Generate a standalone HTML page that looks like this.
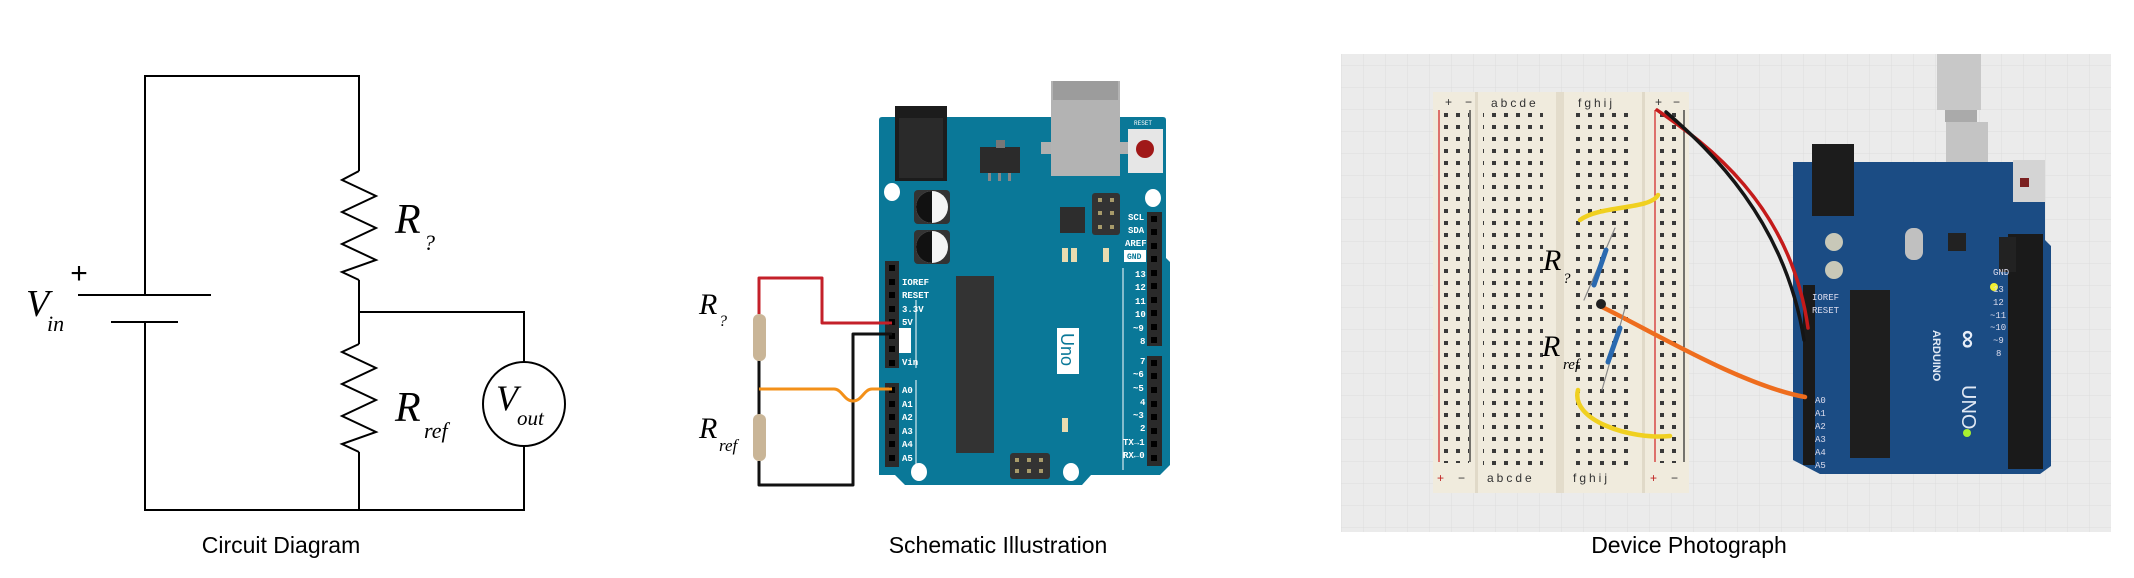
<!DOCTYPE html>
<html><head><meta charset="utf-8"><style>
html,body{margin:0;padding:0;background:#fff;}
svg{display:block;}
.cap{font-family:"Liberation Sans",sans-serif;font-size:23px;fill:#000;text-anchor:middle;}
.m{font-family:"Liberation Serif",serif;font-style:italic;fill:#000;}
.pl{font-family:"Liberation Mono",monospace;font-size:9px;font-weight:bold;fill:#fff;}
</style></head><body>
<svg width="2134" height="578" viewBox="0 0 2134 578" xmlns="http://www.w3.org/2000/svg">
<defs>
<pattern id="grid" width="22" height="22" patternUnits="userSpaceOnUse">
<rect width="22" height="22" fill="#ebebeb"/><path d="M22 0V22H0" fill="none" stroke="#dcdcdc" stroke-width="1"/></pattern>
<pattern id="holes" x="0" y="109" width="12" height="12" patternUnits="userSpaceOnUse">
<rect x="4" y="4" width="4" height="4" fill="#3a3a3a"/></pattern>
<pattern id="rhole" x="0" y="109" width="12" height="12" patternUnits="userSpaceOnUse">
<rect x="4" y="4" width="4" height="4" fill="#3a3a3a"/></pattern>
</defs>

<!-- ===== Circuit diagram ===== -->
<g fill="none" stroke="#000" stroke-width="2">
<polyline points="145,295 145,76 359,76 359,171"/>
<polyline points="359,171 342,180 376,196 342,212 376,228 342,244 376,260 342,272 359,280"/>
<polyline points="359,280 359,344"/>
<polyline points="359,312 524,312 524,362"/>
<polyline points="359,344 342,352 376,368 342,384 376,400 342,416 376,432 342,444 359,452"/>
<polyline points="359,452 359,510"/>
<polyline points="145,322 145,510 524,510 524,446"/>
<line x1="78" y1="295" x2="211" y2="295"/>
<line x1="111" y1="322" x2="178" y2="322"/>
<ellipse cx="524" cy="404" rx="41" ry="42"/>
</g>
<text x="79" y="283" font-family="Liberation Sans,sans-serif" font-size="30" text-anchor="middle">+</text>
<text x="26" y="316" class="m" font-size="38">V</text>
<text x="47" y="331" class="m" font-size="22">in</text>
<text x="395" y="233" class="m" font-size="42">R</text>
<text x="424" y="250" class="m" font-size="22">?</text>
<text x="395" y="421" class="m" font-size="42">R</text>
<text x="424" y="438" class="m" font-size="22">ref</text>
<text x="496" y="410" class="m" font-size="36">V</text>
<text x="517" y="425" class="m" font-size="21">out</text>
<text x="281" y="553" class="cap">Circuit Diagram</text>

<!-- ===== Schematic illustration ===== -->
<!-- board -->
<path d="M879 120 Q879 117 882 117 L1163 117 Q1166 117 1166 120 L1166 258 L1170 262 L1170 465 L1160 475 L1091 475 L1082 485 L905 485 L895 475 L879 475 Z" fill="#0a7898"/>
<!-- DC jack -->
<rect x="895" y="106" width="52" height="75" fill="#1c1c1c"/>
<rect x="899" y="118" width="44" height="60" fill="#2a2a2a"/>
<!-- USB -->
<rect x="1041" y="142" width="10" height="12" fill="#b0b0b0"/>
<rect x="1120" y="142" width="10" height="12" fill="#b0b0b0"/>
<rect x="1051" y="81" width="69" height="95" fill="#b3b3b3"/>
<rect x="1053" y="81" width="65" height="19" fill="#9c9c9c"/>
<!-- reset -->
<rect x="1128" y="129" width="35" height="44" fill="#e6e6e6"/>
<circle cx="1145" cy="149" r="9" fill="#a01818"/>
<text x="1134" y="125" font-family="Liberation Mono,monospace" font-size="6" fill="#fff">RESET</text>
<!-- regulator -->
<rect x="980" y="147" width="40" height="26" fill="#2b2b2b"/>
<rect x="996" y="140" width="9" height="8" fill="#777"/>
<rect x="988" y="173" width="3" height="8" fill="#888"/><rect x="998" y="173" width="3" height="8" fill="#888"/><rect x="1008" y="173" width="3" height="8" fill="#888"/>
<!-- holes -->
<ellipse cx="892" cy="192" rx="8" ry="9" fill="#fff"/>
<ellipse cx="1153" cy="198" rx="8" ry="9" fill="#fff"/>
<ellipse cx="919" cy="472" rx="8" ry="9" fill="#fff"/>
<ellipse cx="1071" cy="472" rx="8" ry="9" fill="#fff"/>
<!-- capacitors -->
<rect x="914" y="190" width="36" height="34" rx="4" fill="#333"/>
<circle cx="932" cy="207" r="16" fill="#f4f4f4"/><path d="M932 191 A16 16 0 0 0 932 223 Z" fill="#111"/>
<rect x="914" y="230" width="36" height="34" rx="4" fill="#333"/>
<circle cx="932" cy="247" r="16" fill="#f4f4f4"/><path d="M932 231 A16 16 0 0 0 932 263 Z" fill="#111"/>
<!-- chips -->
<rect x="956" y="276" width="38" height="177" fill="#333"/>
<rect x="1060" y="207" width="25" height="26" fill="#2d2d2d"/>
<rect x="1092" y="193" width="28" height="42" rx="3" fill="#333"/>
<g fill="#a89b6a"><rect x="1098" y="198" width="4" height="4"/><rect x="1110" y="198" width="4" height="4"/><rect x="1098" y="211" width="4" height="4"/><rect x="1110" y="211" width="4" height="4"/><rect x="1098" y="225" width="4" height="4"/><rect x="1110" y="225" width="4" height="4"/></g>
<rect x="1010" y="453" width="40" height="26" rx="3" fill="#333"/>
<g fill="#a89b6a"><rect x="1015" y="458" width="4" height="4"/><rect x="1027" y="458" width="4" height="4"/><rect x="1039" y="458" width="4" height="4"/><rect x="1015" y="469" width="4" height="4"/><rect x="1027" y="469" width="4" height="4"/><rect x="1039" y="469" width="4" height="4"/></g>
<!-- LEDs -->
<g fill="#e8dcb0"><rect x="1062" y="248" width="6" height="14"/><rect x="1071" y="248" width="6" height="14"/><rect x="1103" y="248" width="6" height="14"/><rect x="1062" y="418" width="6" height="14"/></g>
<!-- Uno label -->
<rect x="1057" y="328" width="22" height="46" fill="#fff"/>
<text transform="translate(1061,333) rotate(90)" font-family="Liberation Sans,sans-serif" font-size="18" fill="#0a7898">Uno</text>
<!-- headers -->
<rect x="885" y="261" width="14" height="107" fill="#2a2a2a"/>
<rect x="885" y="383" width="14" height="84" fill="#2a2a2a"/>
<rect x="1147" y="212" width="15" height="134" fill="#2a2a2a"/>
<rect x="1147" y="356" width="15" height="110" fill="#2a2a2a"/>
<g fill="#000">
<rect x="889" y="265" width="6" height="6"/><rect x="889" y="279" width="6" height="6"/><rect x="889" y="292" width="6" height="6"/><rect x="889" y="306" width="6" height="6"/><rect x="889" y="319" width="6" height="6"/><rect x="889" y="333" width="6" height="6"/><rect x="889" y="346" width="6" height="6"/><rect x="889" y="360" width="6" height="6"/>
<rect x="889" y="387" width="6" height="6"/><rect x="889" y="401" width="6" height="6"/><rect x="889" y="414" width="6" height="6"/><rect x="889" y="428" width="6" height="6"/><rect x="889" y="441" width="6" height="6"/><rect x="889" y="455" width="6" height="6"/>
</g>
<g class="pl">
<text x="902" y="285">IOREF</text><text x="902" y="298">RESET</text><text x="902" y="312">3.3V</text><text x="902" y="325">5V</text><text x="902" y="365">Vin</text>
<text x="902" y="393">A0</text><text x="902" y="407">A1</text><text x="902" y="420">A2</text><text x="902" y="434">A3</text><text x="902" y="447">A4</text><text x="902" y="461">A5</text>
<text x="1128" y="220">SCL</text><text x="1128" y="233">SDA</text><text x="1125" y="246">AREF</text>
<text x="1135" y="277">13</text><text x="1135" y="290">12</text><text x="1135" y="304">11</text><text x="1135" y="317">10</text><text x="1133" y="331">~9</text><text x="1140" y="344">8</text>
<text x="1140" y="364">7</text><text x="1133" y="377">~6</text><text x="1133" y="391">~5</text><text x="1140" y="405">4</text><text x="1133" y="418">~3</text><text x="1140" y="431">2</text><text x="1123" y="445">TX→1</text><text x="1123" y="458">RX←0</text>
</g>
<rect x="1124" y="250" width="22" height="12" fill="#fff"/><text x="1127" y="259" font-family="Liberation Mono,monospace" font-size="8" font-weight="bold" fill="#0a7898">GND</text>
<rect x="899" y="328" width="12" height="25" fill="#fff"/>
<g fill="#000"><rect x="1151" y="216" width="6" height="6"/><rect x="1151" y="229" width="6" height="6"/><rect x="1151" y="243" width="6" height="6"/><rect x="1151" y="256" width="6" height="6"/><rect x="1151" y="270" width="6" height="6"/><rect x="1151" y="283" width="6" height="6"/><rect x="1151" y="297" width="6" height="6"/><rect x="1151" y="310" width="6" height="6"/><rect x="1151" y="324" width="6" height="6"/><rect x="1151" y="337" width="6" height="6"/>
<rect x="1151" y="360" width="6" height="6"/><rect x="1151" y="373" width="6" height="6"/><rect x="1151" y="387" width="6" height="6"/><rect x="1151" y="401" width="6" height="6"/><rect x="1151" y="414" width="6" height="6"/><rect x="1151" y="428" width="6" height="6"/><rect x="1151" y="441" width="6" height="6"/><rect x="1151" y="455" width="6" height="6"/></g>
<line x1="916" y1="300" x2="916" y2="368" stroke="#fff" stroke-width="1"/>
<line x1="916" y1="380" x2="916" y2="464" stroke="#fff" stroke-width="1"/>
<line x1="1123" y1="268" x2="1123" y2="470" stroke="#fff" stroke-width="1"/>
<!-- wires -->
<g fill="none" stroke-width="3" stroke-linejoin="round">
<polyline points="759,314 759,278 822,278 822,323 892,323" stroke="#c4202a"/>
<polyline points="892,334 853,334 853,485 759,485 759,461" stroke="#111"/>
<polyline points="759,360 759,415" stroke="#111"/>
<path d="M759 389 L834 389 C842 389 844 401 853 401 C862 401 864 389 872 389 L892 389" stroke="#f39019"/>
</g>
<rect x="753" y="314" width="13" height="47" rx="6" fill="#c9b597"/>
<rect x="753" y="414" width="13" height="47" rx="6" fill="#c9b597"/>
<text x="699" y="314" class="m" font-size="30">R</text>
<text x="719" y="326" class="m" font-size="16">?</text>
<text x="699" y="438" class="m" font-size="30">R</text>
<text x="719" y="451" class="m" font-size="17">ref</text>
<text x="998" y="553" class="cap">Schematic Illustration</text>

<!-- ===== Photograph ===== -->
<rect x="1341" y="54" width="770" height="478" fill="url(#grid)"/>
<!-- USB cable -->
<rect x="1937" y="54" width="44" height="56" fill="#c8c8c8"/>
<rect x="1945" y="110" width="32" height="12" fill="#aaa"/>
<rect x="1946" y="122" width="42" height="78" fill="#c4c4c4"/>
<!-- breadboard -->
<rect x="1433" y="92" width="256" height="401" fill="#f0ebdd"/>
<rect x="1475" y="92" width="3" height="401" fill="#e0d9c8"/>
<rect x="1556" y="92" width="8" height="401" fill="#e3dccb"/>
<rect x="1642" y="92" width="3" height="401" fill="#e0d9c8"/>
<line x1="1439" y1="110" x2="1439" y2="462" stroke="#d02020" stroke-width="1.2"/>
<line x1="1470" y1="110" x2="1470" y2="462" stroke="#222" stroke-width="1.2"/>
<line x1="1655" y1="110" x2="1655" y2="462" stroke="#d02020" stroke-width="1.2"/>
<line x1="1684" y1="110" x2="1684" y2="462" stroke="#222" stroke-width="1.2"/>
<rect x="1440" y="113" width="29" height="350" fill="url(#rhole)"/>
<rect x="1656" y="113" width="28" height="350" fill="url(#rhole)"/>
<rect x="1483" y="109" width="60" height="360" fill="url(#holes)"/>
<rect x="1571" y="109" width="60" height="360" fill="url(#holes)"/>
<g font-family="Liberation Sans,sans-serif" font-size="12" fill="#333">
<text x="1445" y="106">+</text><text x="1465" y="106">−</text>
<text x="1491" y="107" letter-spacing="3">abcde</text><text x="1578" y="107" letter-spacing="3">fghij</text>
<text x="1655" y="106">+</text><text x="1673" y="106">−</text>
<text x="1437" y="482" fill="#c02020">+</text><text x="1458" y="482">−</text>
<text x="1487" y="482" letter-spacing="3">abcde</text><text x="1573" y="482" letter-spacing="3">fghij</text>
<text x="1650" y="482" fill="#c02020">+</text><text x="1671" y="482">−</text>
</g>
<!-- arduino photo -->
<path d="M1793 162 L2045 162 L2045 240 L2051 246 L2051 466 L2040 474 L1820 474 L1793 460 Z" fill="#1b4c84"/>
<rect x="1812" y="144" width="42" height="72" fill="#1c1c1c"/>
<rect x="1960" y="200" width="2" height="2" fill="#1b4c84"/>
<rect x="2013" y="160" width="32" height="42" fill="#d4d4d4"/>
<rect x="2020" y="178" width="9" height="9" fill="#7a2020"/>
<circle cx="1834" cy="242" r="9" fill="#c8c8b8"/><circle cx="1834" cy="270" r="9" fill="#c8c8b8"/>
<rect x="1850" y="290" width="40" height="168" fill="#1e1e1e"/>
<rect x="1905" y="228" width="18" height="32" rx="8" fill="#c0c0c0"/>
<rect x="1948" y="233" width="18" height="18" fill="#222"/>
<rect x="2008" y="234" width="35" height="235" fill="#1a1a1a"/>
<rect x="1803" y="285" width="12" height="180" fill="#1a1a1a"/>
<rect x="1999" y="237" width="17" height="35" fill="#222"/>
<circle cx="1994" cy="287" r="4" fill="#f2f030"/>
<circle cx="1967" cy="433" r="4" fill="#a8f030"/>
<text transform="translate(1960,330) rotate(90)" font-family="Liberation Sans,sans-serif" font-size="26" font-weight="bold" fill="#e8eef8">∞</text>
<text transform="translate(1933,330) rotate(90)" font-family="Liberation Sans,sans-serif" font-size="11" font-weight="bold" fill="#e0e8f4">ARDUINO</text>
<text transform="translate(1962,385) rotate(90)" font-family="Liberation Sans,sans-serif" font-size="20" fill="#e0e8f4">UNO</text>
<g font-family="Liberation Mono,monospace" font-size="9" fill="#dde">
<text x="1812" y="300">IOREF</text><text x="1812" y="313">RESET</text><text x="1815" y="403">A0</text><text x="1815" y="416">A1</text><text x="1815" y="429">A2</text><text x="1815" y="442">A3</text><text x="1815" y="455">A4</text><text x="1815" y="468">A5</text>
<text x="1993" y="275">GND</text><text x="1993" y="292">13</text><text x="1993" y="305">12</text><text x="1990" y="318">~11</text><text x="1990" y="330">~10</text><text x="1993" y="343">~9</text><text x="1996" y="356">8</text>
</g>
<!-- wires in photo -->
<g fill="none" stroke-linecap="round">
<path d="M1657 110 C1700 140 1790 200 1808 328" stroke="#c41a1a" stroke-width="3.5"/>
<path d="M1666 112 C1710 150 1785 220 1804 340" stroke="#151515" stroke-width="3.5"/>
<path d="M1600 306 C1650 330 1740 385 1805 397" stroke="#ee6d1e" stroke-width="4.5"/>
<path d="M1580 220 C1600 205 1650 210 1658 195" stroke="#f0d020" stroke-width="4.5"/>
<path d="M1578 390 C1570 420 1630 440 1670 436" stroke="#f0d020" stroke-width="4.5"/>
<line x1="1615" y1="228" x2="1584" y2="300" stroke="#888" stroke-width="1.2"/>
<line x1="1625" y1="308" x2="1602" y2="390" stroke="#888" stroke-width="1.2"/>
<line x1="1606" y1="250" x2="1594" y2="285" stroke="#2a6ab0" stroke-width="5"/>
<line x1="1620" y1="328" x2="1608" y2="362" stroke="#2a6ab0" stroke-width="5"/>
</g>
<circle cx="1601" cy="304" r="5" fill="#222"/>
<text x="1543" y="270" class="m" font-size="30">R</text>
<text x="1563" y="283" class="m" font-size="15">?</text>
<text x="1542" y="356" class="m" font-size="30">R</text>
<text x="1563" y="369" class="m" font-size="15">ref</text>
<text x="1689" y="553" class="cap">Device Photograph</text>
</svg>
</body></html>
